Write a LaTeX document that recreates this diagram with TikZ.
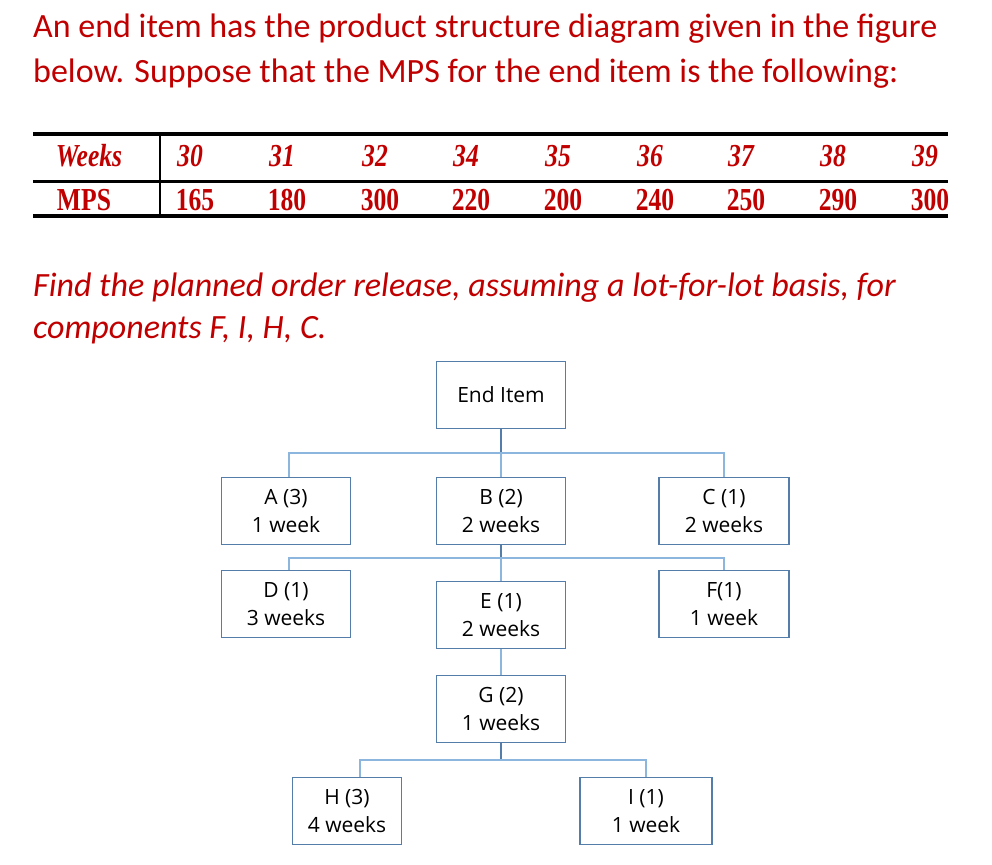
\documentclass[tikz,border=0pt]{standalone}
\usepackage{fontspec}
\setmainfont{Carlito}
\newfontfamily\tnr{Liberation Serif}
\newfontfamily\boxf{Open Sans}
\definecolor{dred}{RGB}{192,0,0}
\definecolor{bbord}{RGB}{85,125,170}
\definecolor{lconn}{RGB}{140,182,222}
\tikzset{
 item/.style={draw=bbord,line width=1.2pt,minimum width=129pt,minimum height=67pt,inner sep=0pt,font=\boxf\fontsize{21}{28}\selectfont,align=center,fill=white},
 conn/.style={draw=lconn,line width=1.2pt},
 trunk/.style={draw=bbord,line width=1.2pt},
 cell/.style={font=\tnr\bfseries\itshape\fontsize{32}{34}\selectfont,text=dred,anchor=center,xscale=0.8},
 cellb/.style={font=\tnr\bfseries\fontsize{32}{34}\selectfont,text=dred,anchor=center,xscale=0.8},
 ttl/.style={font=\fontsize{34}{45}\selectfont,text=dred,anchor=west,inner sep=0pt}
}
\begin{document}
\begin{tikzpicture}[x=1pt,y=-1pt]
\useasboundingbox (0,0) rectangle (992,864);
\node[ttl] (t1) at (33,29) {An end item has the product structure diagram given in the figure};
\node[ttl] (t2) at (33,74) {below. Suppose that the MPS for the end item is the following:};
% table
\draw[line width=4.5pt] (33,134) -- (948,134);
\draw[line width=3pt] (33,181) -- (948,181);
\draw[line width=4.5pt] (33,216) -- (948,216);
\draw[line width=1.5pt] (160,134) -- (160,216);
\node[cell] (wk) at (89,156) {Weeks};
\node[cellb] (mps) at (84,200) {MPS};
\foreach \x/\w/\m [count=\i] in {190/30/165,282/31/180,375/32/300,466/34/220,558/35/200,650/36/240,741/37/250,833/38/290,925/39/300}{
 \node[cell] (w\i) at (\x,156) {\w};
 \node[cellb] (m\i) at (\x+5,200) {\m};
}
\node[ttl,font=\itshape\fontsize{34}{45}\selectfont] (f1) at (33,288) {Find the planned order release, assuming a lot-for-lot basis, for};
\node[ttl,font=\itshape\fontsize{34}{45}\selectfont] (f2) at (33,330) {components F, I, H, C.};
% tree
\coordinate (j1) at (501,453);
\coordinate (j2) at (501,558);
\coordinate (j3) at (501,760);
\draw[trunk] (501,428) -- (j1);
\draw[conn] (289,478) |- (j1) -| (724,478);
\draw[conn] (j1) -- (501,478);
\draw[trunk] (501,545) -- (j2);
\draw[conn] (289,571) |- (j2) -| (724,571);
\draw[conn] (j2) -- (501,582);
\draw[conn] (501,649) -- (501,676);
\draw[trunk] (501,743) -- (j3);
\draw[conn] (360,778) |- (j3) -| (646,778);
\node[item] (end) at (501,395) {End Item};
\node[item] (a) at (286,511) {A (3)\\1 week};
\node[item] (b) at (501,511) {B (2)\\2 weeks};
\node[item,minimum width=130pt] (c) at (724,511) {C (1)\\2 weeks};
\node[item] (d) at (286,604) {D (1)\\3 weeks};
\node[item] (e) at (501,615) {E (1)\\2 weeks};
\node[item,minimum width=130pt] (f) at (724,604) {F(1)\\1 week};
\node[item] (g) at (501,709) {G (2)\\1 weeks};
\node[item,minimum width=109pt] (h) at (347,811) {H (3)\\4 weeks};
\node[item,minimum width=132pt] (i) at (646,811) {I (1)\\1 week};
\end{tikzpicture}
\end{document}
